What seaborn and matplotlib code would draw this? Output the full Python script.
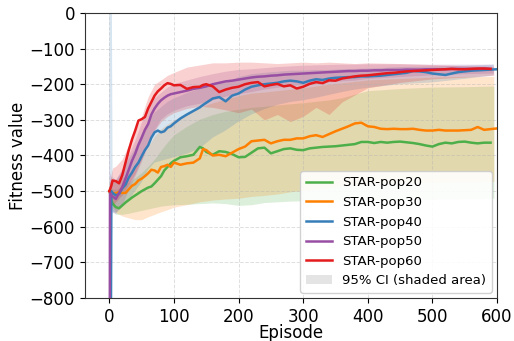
import matplotlib
matplotlib.use("Agg")
import matplotlib.pyplot as plt
import numpy as np
import pandas as pd
import seaborn as sns
from matplotlib.lines import Line2D
from matplotlib.patches import Patch

nan = np.nan

# episode grid for the mean curves
episodes = [0, 1, 3, 5, 10, 15, 20, 25, 30, 35, 40, 45, 50, 55, 60, 65, 70, 75, 80, 85, 90, 95, 100,
            110, 120, 130, 140, 145] + list(range(150, 601, 10))

pop20 = [-500, -505, -525, -535, -545, -548, -540, -532, -525, -518, -512, -506, -500, -495, -490, -487,
         -478, -468, -458, -442, -432, -422, -415, -405, -402, -398, -376, -380, -390, -398, -388, -390,
         -396, -405, -404, -392, -380, -378, -394, -388, -382, -380, -384, -385, -380, -378, -376, -375,
         -374, -372, -370, -368, -362, -362, -365, -362, -364, -362, -361, -363, -365, -368, -372, -375,
         -368, -364, -366, -362, -361, -364, -366, -364, -364, nan]
pop30 = [-500, -500, -503, -505, -506, -502, -505, -505, -495, -485, -480, -470, -465, -458, -450, -440,
         -442, -448, -432, -430, -426, -432, -420, -426, -422, -420, -408, -382, -385, -400, -398, -402,
         -392, -382, -375, -360, -358, -356, -366, -360, -356, -356, -352, -352, -346, -343, -348, -340,
         -332, -325, -318, -310, -308, -318, -320, -325, -326, -325, -326, -326, -325, -328, -330, -330,
         -328, -330, -330, -330, -329, -328, -320, -328, -326, -324]
pop40 = [-1500, -1500, -500, -505, -512, -508, -492, -482, -462, -448, -432, -420, -402, -385, -372, -350,
         -335, -330, -335, -332, -322, -318, -310, -296, -285, -275, -265, -258, -252, -240, -236, -248,
         -232, -226, -215, -207, -203, -200, -198, -196, -192, -190, -192, -196, -190, -186, -188, -184,
         -182, -181, -180, -180, -178, -178, -177, -176, -174, -172, -170, -168, -163, -164, -166, -170,
         -172, -174, -170, -166, -164, -162, -161, -160, -159, -158]
pop50 = [-1500, -505, -512, -515, -522, -505, -488, -465, -440, -415, -395, -370, -350, -328, -312, -285,
         -268, -255, -245, -238, -232, -228, -226, -222, -218, -213, -210, -208, -206, -200, -196, -192,
         -190, -187, -184, -181, -179, -178, -176, -175, -173, -172, -171, -170, -169, -168, -167, -166,
         -165, -164, -163, -163, -162, -162, -161, -161, -160, -160, -160, -159, -159, -159, -158, -158,
         -158, -158, -157, -157, -157, -157, -157, -156, -157, nan]
pop60 = [-500, -495, -485, -470, -472, -478, -455, -420, -385, -355, -330, -302, -298, -292, -268, -250,
         -232, -220, -212, -203, -197, -199, -203, -202, -213, -208, -207, -202, -200, -206, -222, -215,
         -210, -207, -200, -196, -194, -206, -202, -199, -206, -203, -212, -207, -199, -194, -197, -189,
         -190, -184, -181, -178, -176, -175, -173, -171, -169, -168, -166, -164, -163, -162, -161, -160,
         -159, -158, -157, -158, -158, -157, -156, -156, -157, nan]

# episode grid for the 95% CI bands
band_episodes = [0, 1, 3, 5, 10, 20, 30, 40, 50, 60, 70, 80, 90, 100, 120, 140, 160, 180, 200, 220, 240,
                 260, 280, 300, 320, 340, 360, 380, 400, 450, 500, 550, 595]

pop20_hi = [-480, -485, -490, -495, -495, -485, -475, -462, -448, -430, -410, -385, -362, -342, -318, -298,
            -285, -276, -270, -265, -262, -258, -255, -252, -248, -244, -238, -228, -218, -212, -208, -207, -205]
pop20_lo = [-520, -530, -545, -555, -565, -565, -562, -558, -554, -550, -546, -542, -540, -538, -537, -535,
            -533, -535, -540, -538, -532, -530, -528, -527, -526, -525, -525, -525, -524, -524, -523, -522, -520]
pop30_hi = [-480, -475, -470, -470, -468, -462, -450, -430, -405, -375, -345, -325, -312, -300, -282, -265,
            -252, -242, -232, -225, -222, -218, -214, -210, -205, -200, -196, -192, -188, -184, -180, -178, -178]
pop30_lo = [-520, -525, -535, -545, -560, -570, -575, -580, -580, -572, -565, -558, -552, -545, -538, -530,
            -525, -522, -520, -515, -512, -508, -502, -498, -494, -490, -486, -483, -480, -477, -475, -474, -473]
pop40_hi = [400, 400, 400, -460, -470, -445, -410, -380, -340, -305, -280, -265, -250, -240, -225, -212,
            -200, -195, -180, -172, -168, -165, -162, -162, -160, -160, -158, -157, -156, -152, -150, -148, -145]
pop40_lo = [-2500, -2500, -2500, -560, -560, -545, -525, -500, -475, -440, -420, -415, -410, -405, -395, -380,
            -350, -330, -305, -285, -270, -258, -250, -245, -238, -230, -222, -215, -210, -200, -195, -185, -175]
pop50_hi = [-60, -450, -460, -470, -470, -440, -400, -360, -310, -270, -240, -225, -210, -200, -190, -180,
            -172, -165, -160, -158, -155, -152, -150, -148, -147, -146, -145, -145, -144, -144, -145, -145, -145]
pop50_lo = [-2500, -560, -560, -560, -565, -540, -500, -460, -420, -370, -330, -300, -285, -275, -262, -255,
            -245, -235, -228, -222, -215, -210, -205, -202, -200, -195, -192, -190, -185, -180, -175, -172, -170]
pop60_hi = [-480, -470, -450, -435, -430, -410, -370, -330, -290, -235, -200, -188, -175, -167, -152, -146,
            -140, -140, -138, -138, -140, -142, -140, -138, -140, -138, -140, -142, -140, -142, -145, -148, -150]
pop60_lo = [-520, -520, -530, -540, -530, -510, -480, -450, -410, -370, -330, -305, -290, -280, -268, -262,
            -265, -272, -280, -270, -300, -285, -305, -290, -265, -285, -250, -230, -210, -195, -185, -180, -175]

labels = ["STAR-pop20", "STAR-pop30", "STAR-pop40", "STAR-pop50", "STAR-pop60"]
means = [pop20, pop30, pop40, pop50, pop60]
highs = [pop20_hi, pop30_hi, pop40_hi, pop50_hi, pop60_hi]
lows = [pop20_lo, pop30_lo, pop40_lo, pop50_lo, pop60_lo]
colors = ["#4daf4a", "#ff7f00", "#377eb8", "#984ea3", "#e41a1c"]

df = pd.concat([pd.DataFrame({"episode": episodes, "fitness": m, "method": lab})
                for m, lab in zip(means, labels)]).dropna()

fig, ax = plt.subplots(figsize=(5.14, 3.41), dpi=100)
fig.subplots_adjust(left=0.165, right=0.967, top=0.962, bottom=0.126)

for lo, hi, c in zip(lows, highs, colors):
    ax.fill_between(band_episodes, lo, hi, color=c, alpha=0.2, linewidth=0)

sns.lineplot(data=df, x="episode", y="fitness", hue="method", palette=dict(zip(labels, colors)),
             linewidth=1.8, errorbar=None, legend=False, ax=ax)

ax.set_xlim(-38, 600)
ax.set_ylim(-800, 0)
ax.set_xticks(range(0, 601, 100))
ax.set_yticks(range(-800, 1, 100))
ax.tick_params(labelsize=12)
ax.set_xlabel("Episode", fontsize=12, labelpad=-1)
ax.set_ylabel("Fitness value", fontsize=12, labelpad=2)
ax.grid(True, linestyle="--", linewidth=0.7, alpha=0.4)
for s in ax.spines.values():
    s.set_color("#333333")

handles = [Line2D([0], [0], color=c, lw=1.8) for c in colors]
handles.append(Patch(facecolor="lightgrey", alpha=0.6, edgecolor="none"))
ax.legend(handles, labels + ["95% CI (shaded area)"], loc="lower right", fontsize=9.5,
          framealpha=0.9, borderaxespad=0.4)

fig.savefig("out.png", dpi=100)
